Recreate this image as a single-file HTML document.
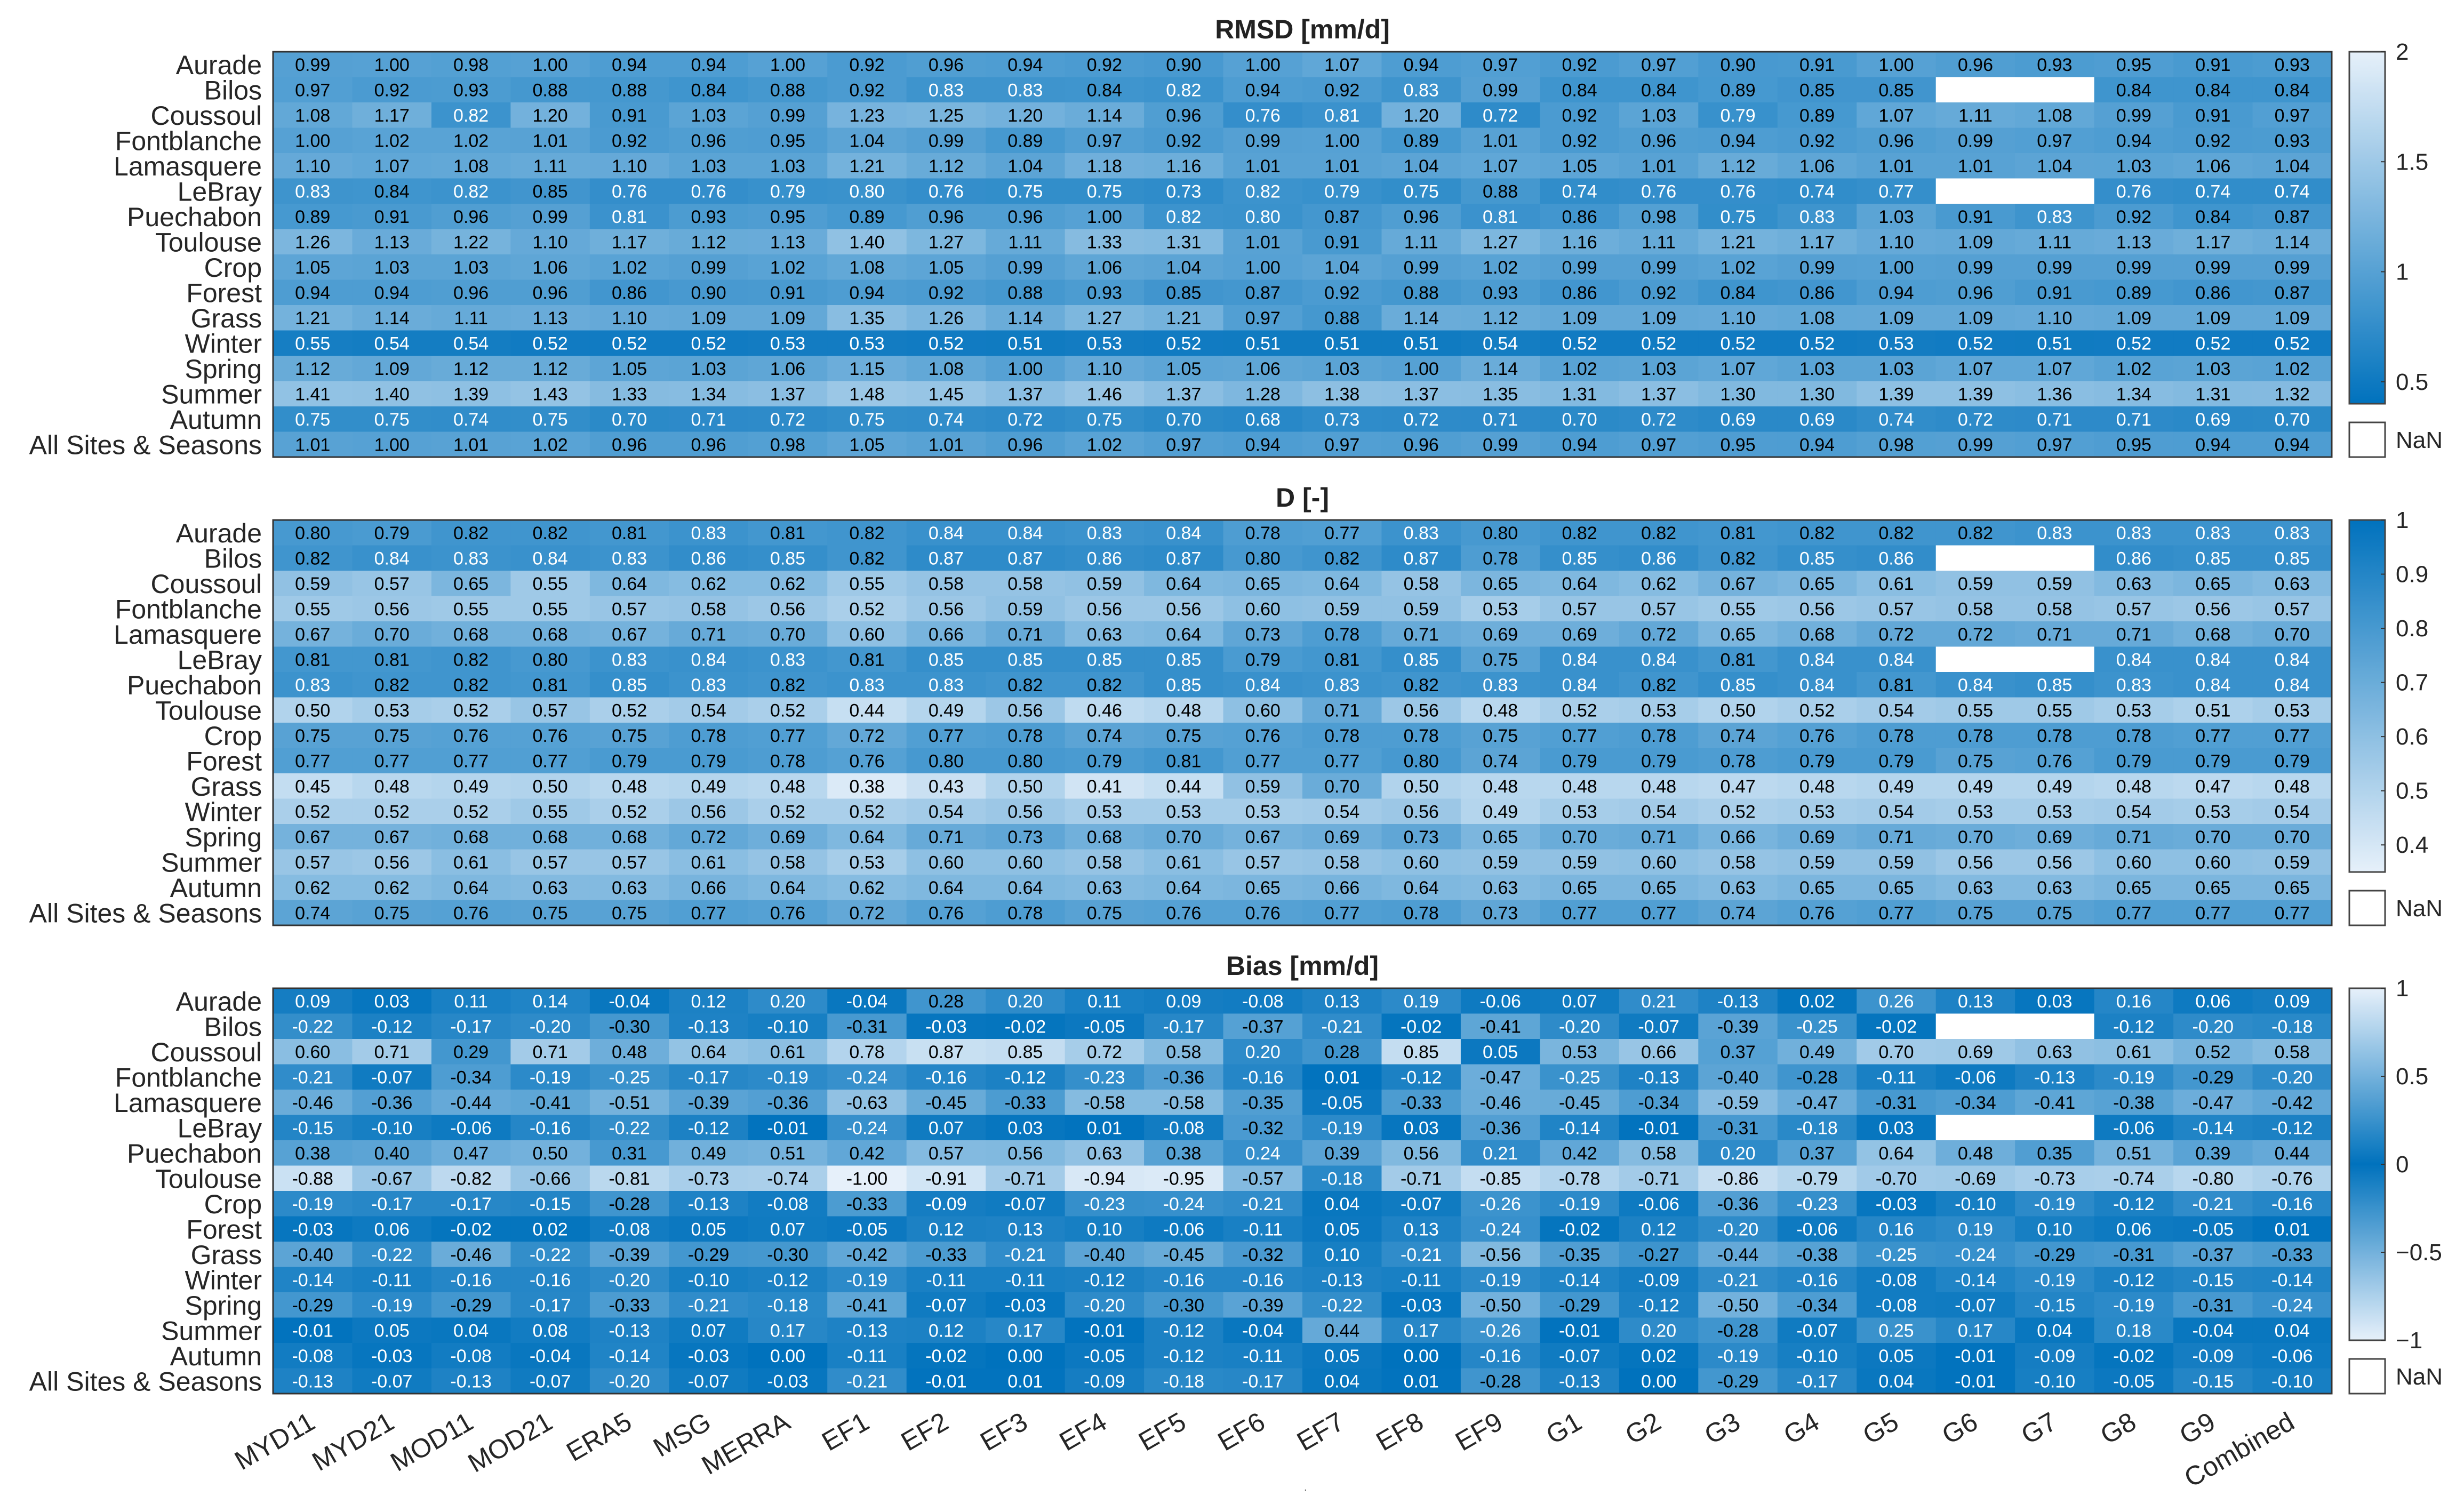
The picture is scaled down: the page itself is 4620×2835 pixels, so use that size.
<!DOCTYPE html>
<html><head><meta charset="utf-8"><style>
html,body{margin:0;padding:0;background:#fff;}
svg{display:block;font-family:"Liberation Sans",Arial,sans-serif;}
</style></head><body>
<svg id="fig" width="4620" height="2835" viewBox="0 0 4620 2835" xmlns="http://www.w3.org/2000/svg"></svg>
<script>
const rowLabels = ["Aurade","Bilos","Coussoul","Fontblanche","Lamasquere","LeBray","Puechabon","Toulouse","Crop","Forest","Grass","Winter","Spring","Summer","Autumn","All Sites & Seasons"];
const colLabels = ["MYD11","MYD21","MOD11","MOD21","ERA5","MSG","MERRA","EF1","EF2","EF3","EF4","EF5","EF6","EF7","EF8","EF9","G1","G2","G3","G4","G5","G6","G7","G8","G9","Combined"];
const N = null;
const rmsdValues = [
[0.99,1.00,0.98,1.00,0.94,0.94,1.00,0.92,0.96,0.94,0.92,0.90,1.00,1.07,0.94,0.97,0.92,0.97,0.90,0.91,1.00,0.96,0.93,0.95,0.91,0.93],
[0.97,0.92,0.93,0.88,0.88,0.84,0.88,0.92,0.83,0.83,0.84,0.82,0.94,0.92,0.83,0.99,0.84,0.84,0.89,0.85,0.85,N,N,0.84,0.84,0.84],
[1.08,1.17,0.82,1.20,0.91,1.03,0.99,1.23,1.25,1.20,1.14,0.96,0.76,0.81,1.20,0.72,0.92,1.03,0.79,0.89,1.07,1.11,1.08,0.99,0.91,0.97],
[1.00,1.02,1.02,1.01,0.92,0.96,0.95,1.04,0.99,0.89,0.97,0.92,0.99,1.00,0.89,1.01,0.92,0.96,0.94,0.92,0.96,0.99,0.97,0.94,0.92,0.93],
[1.10,1.07,1.08,1.11,1.10,1.03,1.03,1.21,1.12,1.04,1.18,1.16,1.01,1.01,1.04,1.07,1.05,1.01,1.12,1.06,1.01,1.01,1.04,1.03,1.06,1.04],
[0.83,0.84,0.82,0.85,0.76,0.76,0.79,0.80,0.76,0.75,0.75,0.73,0.82,0.79,0.75,0.88,0.74,0.76,0.76,0.74,0.77,N,N,0.76,0.74,0.74],
[0.89,0.91,0.96,0.99,0.81,0.93,0.95,0.89,0.96,0.96,1.00,0.82,0.80,0.87,0.96,0.81,0.86,0.98,0.75,0.83,1.03,0.91,0.83,0.92,0.84,0.87],
[1.26,1.13,1.22,1.10,1.17,1.12,1.13,1.40,1.27,1.11,1.33,1.31,1.01,0.91,1.11,1.27,1.16,1.11,1.21,1.17,1.10,1.09,1.11,1.13,1.17,1.14],
[1.05,1.03,1.03,1.06,1.02,0.99,1.02,1.08,1.05,0.99,1.06,1.04,1.00,1.04,0.99,1.02,0.99,0.99,1.02,0.99,1.00,0.99,0.99,0.99,0.99,0.99],
[0.94,0.94,0.96,0.96,0.86,0.90,0.91,0.94,0.92,0.88,0.93,0.85,0.87,0.92,0.88,0.93,0.86,0.92,0.84,0.86,0.94,0.96,0.91,0.89,0.86,0.87],
[1.21,1.14,1.11,1.13,1.10,1.09,1.09,1.35,1.26,1.14,1.27,1.21,0.97,0.88,1.14,1.12,1.09,1.09,1.10,1.08,1.09,1.09,1.10,1.09,1.09,1.09],
[0.55,0.54,0.54,0.52,0.52,0.52,0.53,0.53,0.52,0.51,0.53,0.52,0.51,0.51,0.51,0.54,0.52,0.52,0.52,0.52,0.53,0.52,0.51,0.52,0.52,0.52],
[1.12,1.09,1.12,1.12,1.05,1.03,1.06,1.15,1.08,1.00,1.10,1.05,1.06,1.03,1.00,1.14,1.02,1.03,1.07,1.03,1.03,1.07,1.07,1.02,1.03,1.02],
[1.41,1.40,1.39,1.43,1.33,1.34,1.37,1.48,1.45,1.37,1.46,1.37,1.28,1.38,1.37,1.35,1.31,1.37,1.30,1.30,1.39,1.39,1.36,1.34,1.31,1.32],
[0.75,0.75,0.74,0.75,0.70,0.71,0.72,0.75,0.74,0.72,0.75,0.70,0.68,0.73,0.72,0.71,0.70,0.72,0.69,0.69,0.74,0.72,0.71,0.71,0.69,0.70],
[1.01,1.00,1.01,1.02,0.96,0.96,0.98,1.05,1.01,0.96,1.02,0.97,0.94,0.97,0.96,0.99,0.94,0.97,0.95,0.94,0.98,0.99,0.97,0.95,0.94,0.94]];
const dValues = [
[0.80,0.79,0.82,0.82,0.81,0.83,0.81,0.82,0.84,0.84,0.83,0.84,0.78,0.77,0.83,0.80,0.82,0.82,0.81,0.82,0.82,0.82,0.83,0.83,0.83,0.83],
[0.82,0.84,0.83,0.84,0.83,0.86,0.85,0.82,0.87,0.87,0.86,0.87,0.80,0.82,0.87,0.78,0.85,0.86,0.82,0.85,0.86,N,N,0.86,0.85,0.85],
[0.59,0.57,0.65,0.55,0.64,0.62,0.62,0.55,0.58,0.58,0.59,0.64,0.65,0.64,0.58,0.65,0.64,0.62,0.67,0.65,0.61,0.59,0.59,0.63,0.65,0.63],
[0.55,0.56,0.55,0.55,0.57,0.58,0.56,0.52,0.56,0.59,0.56,0.56,0.60,0.59,0.59,0.53,0.57,0.57,0.55,0.56,0.57,0.58,0.58,0.57,0.56,0.57],
[0.67,0.70,0.68,0.68,0.67,0.71,0.70,0.60,0.66,0.71,0.63,0.64,0.73,0.78,0.71,0.69,0.69,0.72,0.65,0.68,0.72,0.72,0.71,0.71,0.68,0.70],
[0.81,0.81,0.82,0.80,0.83,0.84,0.83,0.81,0.85,0.85,0.85,0.85,0.79,0.81,0.85,0.75,0.84,0.84,0.81,0.84,0.84,N,N,0.84,0.84,0.84],
[0.83,0.82,0.82,0.81,0.85,0.83,0.82,0.83,0.83,0.82,0.82,0.85,0.84,0.83,0.82,0.83,0.84,0.82,0.85,0.84,0.81,0.84,0.85,0.83,0.84,0.84],
[0.50,0.53,0.52,0.57,0.52,0.54,0.52,0.44,0.49,0.56,0.46,0.48,0.60,0.71,0.56,0.48,0.52,0.53,0.50,0.52,0.54,0.55,0.55,0.53,0.51,0.53],
[0.75,0.75,0.76,0.76,0.75,0.78,0.77,0.72,0.77,0.78,0.74,0.75,0.76,0.78,0.78,0.75,0.77,0.78,0.74,0.76,0.78,0.78,0.78,0.78,0.77,0.77],
[0.77,0.77,0.77,0.77,0.79,0.79,0.78,0.76,0.80,0.80,0.79,0.81,0.77,0.77,0.80,0.74,0.79,0.79,0.78,0.79,0.79,0.75,0.76,0.79,0.79,0.79],
[0.45,0.48,0.49,0.50,0.48,0.49,0.48,0.38,0.43,0.50,0.41,0.44,0.59,0.70,0.50,0.48,0.48,0.48,0.47,0.48,0.49,0.49,0.49,0.48,0.47,0.48],
[0.52,0.52,0.52,0.55,0.52,0.56,0.52,0.52,0.54,0.56,0.53,0.53,0.53,0.54,0.56,0.49,0.53,0.54,0.52,0.53,0.54,0.53,0.53,0.54,0.53,0.54],
[0.67,0.67,0.68,0.68,0.68,0.72,0.69,0.64,0.71,0.73,0.68,0.70,0.67,0.69,0.73,0.65,0.70,0.71,0.66,0.69,0.71,0.70,0.69,0.71,0.70,0.70],
[0.57,0.56,0.61,0.57,0.57,0.61,0.58,0.53,0.60,0.60,0.58,0.61,0.57,0.58,0.60,0.59,0.59,0.60,0.58,0.59,0.59,0.56,0.56,0.60,0.60,0.59],
[0.62,0.62,0.64,0.63,0.63,0.66,0.64,0.62,0.64,0.64,0.63,0.64,0.65,0.66,0.64,0.63,0.65,0.65,0.63,0.65,0.65,0.63,0.63,0.65,0.65,0.65],
[0.74,0.75,0.76,0.75,0.75,0.77,0.76,0.72,0.76,0.78,0.75,0.76,0.76,0.77,0.78,0.73,0.77,0.77,0.74,0.76,0.77,0.75,0.75,0.77,0.77,0.77]];
const biasValues = [
[0.09,0.03,0.11,0.14,-0.04,0.12,0.20,-0.04,0.28,0.20,0.11,0.09,-0.08,0.13,0.19,-0.06,0.07,0.21,-0.13,0.02,0.26,0.13,0.03,0.16,0.06,0.09],
[-0.22,-0.12,-0.17,-0.20,-0.30,-0.13,-0.10,-0.31,-0.03,-0.02,-0.05,-0.17,-0.37,-0.21,-0.02,-0.41,-0.20,-0.07,-0.39,-0.25,-0.02,N,N,-0.12,-0.20,-0.18],
[0.60,0.71,0.29,0.71,0.48,0.64,0.61,0.78,0.87,0.85,0.72,0.58,0.20,0.28,0.85,0.05,0.53,0.66,0.37,0.49,0.70,0.69,0.63,0.61,0.52,0.58],
[-0.21,-0.07,-0.34,-0.19,-0.25,-0.17,-0.19,-0.24,-0.16,-0.12,-0.23,-0.36,-0.16,0.01,-0.12,-0.47,-0.25,-0.13,-0.40,-0.28,-0.11,-0.06,-0.13,-0.19,-0.29,-0.20],
[-0.46,-0.36,-0.44,-0.41,-0.51,-0.39,-0.36,-0.63,-0.45,-0.33,-0.58,-0.58,-0.35,-0.05,-0.33,-0.46,-0.45,-0.34,-0.59,-0.47,-0.31,-0.34,-0.41,-0.38,-0.47,-0.42],
[-0.15,-0.10,-0.06,-0.16,-0.22,-0.12,-0.01,-0.24,0.07,0.03,0.01,-0.08,-0.32,-0.19,0.03,-0.36,-0.14,-0.01,-0.31,-0.18,0.03,N,N,-0.06,-0.14,-0.12],
[0.38,0.40,0.47,0.50,0.31,0.49,0.51,0.42,0.57,0.56,0.63,0.38,0.24,0.39,0.56,0.21,0.42,0.58,0.20,0.37,0.64,0.48,0.35,0.51,0.39,0.44],
[-0.88,-0.67,-0.82,-0.66,-0.81,-0.73,-0.74,-1.00,-0.91,-0.71,-0.94,-0.95,-0.57,-0.18,-0.71,-0.85,-0.78,-0.71,-0.86,-0.79,-0.70,-0.69,-0.73,-0.74,-0.80,-0.76],
[-0.19,-0.17,-0.17,-0.15,-0.28,-0.13,-0.08,-0.33,-0.09,-0.07,-0.23,-0.24,-0.21,0.04,-0.07,-0.26,-0.19,-0.06,-0.36,-0.23,-0.03,-0.10,-0.19,-0.12,-0.21,-0.16],
[-0.03,0.06,-0.02,0.02,-0.08,0.05,0.07,-0.05,0.12,0.13,0.10,-0.06,-0.11,0.05,0.13,-0.24,-0.02,0.12,-0.20,-0.06,0.16,0.19,0.10,0.06,-0.05,0.01],
[-0.40,-0.22,-0.46,-0.22,-0.39,-0.29,-0.30,-0.42,-0.33,-0.21,-0.40,-0.45,-0.32,0.10,-0.21,-0.56,-0.35,-0.27,-0.44,-0.38,-0.25,-0.24,-0.29,-0.31,-0.37,-0.33],
[-0.14,-0.11,-0.16,-0.16,-0.20,-0.10,-0.12,-0.19,-0.11,-0.11,-0.12,-0.16,-0.16,-0.13,-0.11,-0.19,-0.14,-0.09,-0.21,-0.16,-0.08,-0.14,-0.19,-0.12,-0.15,-0.14],
[-0.29,-0.19,-0.29,-0.17,-0.33,-0.21,-0.18,-0.41,-0.07,-0.03,-0.20,-0.30,-0.39,-0.22,-0.03,-0.50,-0.29,-0.12,-0.50,-0.34,-0.08,-0.07,-0.15,-0.19,-0.31,-0.24],
[-0.01,0.05,0.04,0.08,-0.13,0.07,0.17,-0.13,0.12,0.17,-0.01,-0.12,-0.04,0.44,0.17,-0.26,-0.01,0.20,-0.28,-0.07,0.25,0.17,0.04,0.18,-0.04,0.04],
[-0.08,-0.03,-0.08,-0.04,-0.14,-0.03,0.00,-0.11,-0.02,0.00,-0.05,-0.12,-0.11,0.05,0.00,-0.16,-0.07,0.02,-0.19,-0.10,0.05,-0.01,-0.09,-0.02,-0.09,-0.06],
[-0.13,-0.07,-0.13,-0.07,-0.20,-0.07,-0.03,-0.21,-0.01,0.01,-0.09,-0.18,-0.17,0.04,0.01,-0.28,-0.13,0.00,-0.29,-0.17,0.04,-0.01,-0.10,-0.05,-0.15,-0.10]];
const rmsdTicks = [0.5,1,1.5,2];
const dTicks = [0.4,0.5,0.6,0.7,0.8,0.9,1];
const biasTicks = [-1,-0.5,0,0.5,1];

const NS = "http://www.w3.org/2000/svg";
const svg = document.getElementById('fig');
function mk(tag, attrs, parent){ const e=document.createElementNS(NS,tag); for(const k in attrs) e.setAttribute(k,attrs[k]); (parent||svg).appendChild(e); return e; }
const DARK=[0,114,189], LIGHT=[230,240,250];
function mix(t){ t=Math.max(0,Math.min(1,t)); return 'rgb('+DARK.map((d,i)=>Math.round(d+(LIGHT[i]-d)*t)).join(',')+')'; }
const X0=512, X1=4372, PH=760;
const cw=(X1-X0)/colLabels.length, rh=PH/rowLabels.length;
const panels=[
 {key:'rmsd',title:'RMSD [mm/d]',data:rmsdValues,min:0.4,max:2,ticks:rmsdTicks,top:97,light:v=>(v-0.4)/1.6},
 {key:'d',title:'D [-]',data:dValues,min:0.35,max:1,ticks:dTicks,top:975,light:v=>(1-v)/0.65},
 {key:'bias',title:'Bias [mm/d]',data:biasValues,min:-1,max:1,ticks:biasTicks,top:1853,light:v=>Math.abs(v)}
];
function fmtTick(v){ return v<0 ? '\u2212'+String(-v) : String(v); }
panels.forEach(p=>{
  const g=mk('g',{});
  
  
  const t=mk('text',{x:(X0+X1)/2,y:p.top-25,'text-anchor':'middle','font-size':50,'font-weight':'bold',fill:'#222'},g);
  t.textContent=p.title;
  
  
  rowLabels.forEach((lab,r)=>{
    const yl=mk('text',{x:491,y:p.top+rh*(r+0.5)+18,'text-anchor':'end','font-size':50,fill:'#262626'},g);
    yl.textContent=lab;
    
    
    colLabels.forEach((c,ci)=>{
      const v=p.data[r][ci];
      const x=X0+ci*cw, y=p.top+r*rh;
      const cell=mk('rect',{x:x,y:y,width:cw+0.6,height:rh+0.6,fill: v===null?'#ffffff':mix(p.light(v))},g);
      
      
      if(v!==null){
        const tx=mk('text',{x:x+cw/2,y:y+rh/2+12,'text-anchor':'middle','font-size':34,fill: p.light(v)<0.27?'#ffffff':'#000000'},g);
        tx.textContent=v.toFixed(2);
        
        
      }
    });
  });
  const fr=mk('rect',{x:X0,y:p.top,width:X1-X0,height:PH,fill:'none',stroke:'#333',"stroke-width":3},g);
  
  
  const cbx=4405, cbw=67, cbh=660;
  const gid='grad-'+p.key;
  const defs=mk('defs',{},g);
  const lg=mk('linearGradient',{id:gid,x1:0,y1:1,x2:0,y2:0},defs);
  for(let i=0;i<=40;i++){ const v=p.min+(p.max-p.min)*i/40; mk('stop',{offset:(i/40),'stop-color':mix(p.light(v))},lg); }
  const cb=mk('rect',{x:cbx,y:p.top,width:cbw,height:cbh,fill:'url(#'+gid+')',stroke:'#444','stroke-width':3},g);
  
  
  p.ticks.forEach(tv=>{
    const ty=p.top+cbh*(1-(tv-p.min)/(p.max-p.min));
    mk('line',{x1:cbx+cbw-8,x2:cbx+cbw,y1:ty,y2:ty,stroke:'#333','stroke-width':2},g);
    const tl=mk('text',{x:4492,y:ty+15,'font-size':44,fill:'#262626'},g);
    tl.textContent=fmtTick(tv);
    
    
  });
  const nb=mk('rect',{x:cbx,y:p.top+cbh+35,width:cbw,height:65,fill:'#fff',stroke:'#444','stroke-width':3},g);
  
  
  const nt=mk('text',{x:4492,y:p.top+cbh+83,'font-size':44,fill:'#262626'},g);
  nt.textContent='NaN';
  
  
});
colLabels.forEach((c,ci)=>{
  const cx=X0+cw*(ci+0.5)+8, cy=2676;
  const xl=mk('text',{x:cx,y:cy,'text-anchor':'end','font-size':50,fill:'#262626',transform:'rotate(-30 '+cx+' '+cy+')'});
  xl.textContent=c;
  
  
});
const dot=mk('text',{x:2445,y:2795,'font-size':20,fill:'#555'});
dot.textContent='.';


</script>
</body></html>
